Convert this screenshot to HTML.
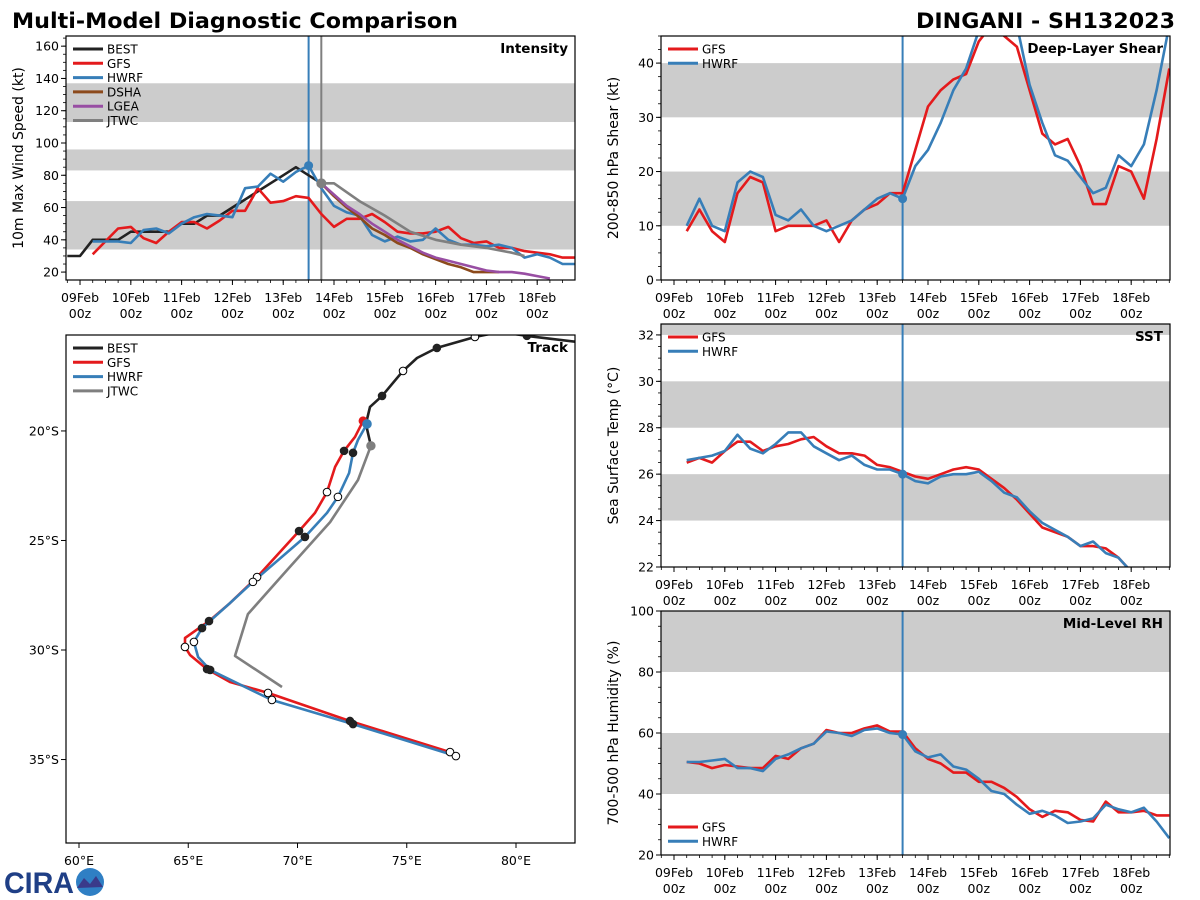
<!DOCTYPE html>
<html><head><meta charset="utf-8"><style>
body{margin:0;background:#fff}
svg{display:block;font-family:"DejaVu Sans","Liberation Sans",sans-serif}
</style></head><body>
<svg id="c" width="1200" height="900" viewBox="0 0 1200 900">
<text x="12" y="28" font-size="21" font-weight="bold" textLength="446" lengthAdjust="spacingAndGlyphs">Multi-Model Diagnostic Comparison</text>
<text x="1175" y="28" font-size="21" font-weight="bold" text-anchor="end" textLength="259" lengthAdjust="spacingAndGlyphs">DINGANI - SH132023</text>
<g>
<text x="4" y="893" font-size="30" font-weight="bold" fill="#1f3f86" font-family="Liberation Sans, sans-serif" textLength="70" lengthAdjust="spacingAndGlyphs">CIRA</text>
<circle cx="90" cy="882" r="14" fill="#2f7fc4"/>
<path d="M77 888 L84 878 L90 884 L96 876 L103 887 Z" fill="#3a3a8a"/>
</g>
</svg>
<script>
const C='#e41a1c',B='#377eb8',K='#222222',BR='#8c4a1c',P='#984ea3',G='#7f7f7f';
// ---- Intensity data (kt), time in days from 09Feb 00z
const bestT=[-0.25,0,0.25,0.5,0.75,1,1.25,1.5,1.75,2,2.25,2.5,2.75,3,3.25,3.5,3.75,4,4.25,4.5,4.75];
const bestV=[30,30,40,40,40,45,45,45,45,50,50,55,55,60,65,70,75,80,85,80,75];
const modelT=[0.25,0.5,0.75,1,1.25,1.5,1.75,2,2.25,2.5,2.75,3,3.25,3.5,3.75,4,4.25,4.5,4.75,5,5.25,5.5,5.75,6,6.25,6.5,6.75,7,7.25,7.5,7.75,8,8.25,8.5,8.75,9,9.25,9.5,9.75];
const gfsInt=[31,39,47,48,41,38,45,51,51,47,52,58,58,72,63,64,67,66,56,48,53,53,56,51,45,44,44,45,48,41,38,39,35,35,33,32,31,29,29];
const hwrfInt=[39,39,39,38,46,47,44,50,54,56,55,54,72,73,81,76,82,86,72,61,57,55,43,39,42,39,40,47,40,37,37,36,37,35,29,31,29,25,25];
const dshaT=[4.75,5,5.25,5.5,5.75,6,6.25,6.5,6.75,7,7.25,7.5,7.75,8,8.25];
const dshaV=[75,67,60,54,47,43,38,35,31,28,25,23,20,20,20];
const lgeaT=[4.75,5,5.25,5.5,5.75,6,6.25,6.5,6.75,7,7.25,7.5,7.75,8,8.25,8.5,8.75,9,9.25];
const lgeaV=[75,68,61,56,50,45,40,36,32,29,27,25,23,21,20,20,19,17.5,16];
const jtwcT=[4.75,5,5.5,6,6.5,7,7.5,8,8.5,8.75];
const jtwcV=[75,75,64,55,45,40,37,35,32,30];
// ---- Shear (kt)
const gfsShear=[9,13,9,7,16,19,18,9,10,10,10,11,7,11,13,14,16,16,24,32,35,37,38,44,47,45,43,35,27,25,26,21,14,14,21,20,15,26,39];
const hwrfShear=[10,15,10,9,18,20,19,12,11,13,10,9,10,11,13,15,16,15,21,24,29,35,39,46,50,50,47,36,29,23,22,19,16,17,23,21,25,35,47];
// ---- SST (C)
const gfsSst=[26.5,26.7,26.5,27.0,27.4,27.4,27.0,27.2,27.3,27.5,27.6,27.2,26.9,26.9,26.8,26.4,26.3,26.1,25.9,25.8,26.0,26.2,26.3,26.2,25.8,25.4,24.9,24.3,23.7,23.5,23.3,22.9,22.9,22.8,22.4,21.8];
const hwrfSst=[26.6,26.7,26.8,27.0,27.7,27.1,26.9,27.3,27.8,27.8,27.2,26.9,26.6,26.8,26.4,26.2,26.2,26.0,25.7,25.6,25.9,26.0,26.0,26.1,25.7,25.2,25.0,24.4,23.9,23.6,23.3,22.9,23.1,22.6,22.4,21.8];
// ---- RH (%)
const gfsRh=[50.5,50,48.5,49.5,49,48.5,48.5,52.5,51.5,55,56.5,61,60,60,61.5,62.5,60.5,60.5,55,51.5,50,47,47,44,44,42,39,35,32.5,34.5,34,31.5,31,37.5,34,34,34.5,33,33];
const hwrfRh=[50.5,50.5,51,51.5,48.5,48.5,47.5,51.5,53,55,56.5,60.5,60,59,61,61.5,60,59.5,54,52,53,49,48,45,41,40,36.5,33.5,34.5,33,30.5,31,32,36.5,35,34,35.5,31,25.5];
// ---- Track (lon E, lat)
const bestLon=[83.16,80.50,79.27,78.12,76.38,75.47,74.83,73.87,73.32,73.13,73.36];
const bestLat=[-15.98,-15.66,-15.48,-15.71,-16.21,-16.67,-17.26,-18.40,-18.90,-19.68,-20.68];
const gfsLon=[73.00,72.63,72.13,71.72,71.35,70.80,70.07,68.15,66.91,65.95,64.85,64.85,65.08,65.86,66.91,68.65,72.40,76.98];
const gfsLat=[-19.54,-20.27,-20.91,-21.64,-22.79,-23.74,-24.57,-26.67,-27.86,-28.68,-29.45,-29.86,-30.23,-30.87,-31.46,-31.96,-33.24,-34.66];
const hwrfLon=[73.18,72.77,72.54,72.36,71.85,71.35,70.34,67.96,66.91,65.63,65.26,65.45,66.00,68.83,72.54,77.25];
const hwrfLat=[-19.68,-20.41,-21.00,-21.92,-23.01,-23.74,-24.84,-26.89,-27.86,-29.00,-29.63,-30.32,-30.91,-32.28,-33.38,-34.84];
const jtwcLon=[73.36,72.77,71.49,69.52,67.73,67.14,69.29];
const jtwcLat=[-20.68,-22.24,-24.16,-26.35,-28.36,-30.27,-31.69];
const dayLabels=['09Feb','10Feb','11Feb','12Feb','13Feb','14Feb','15Feb','16Feb','17Feb','18Feb'];
const lonTicks=[60,65,70,75,80];
const latTicks=[-20,-25,-30,-35];

const svg=document.getElementById('c');
const NS='http://www.w3.org/2000/svg';
function el(tag,attrs,parent){const e=document.createElementNS(NS,tag);for(const k in attrs)e.setAttribute(k,attrs[k]);(parent||svg).appendChild(e);return e;}
function txt(x,y,s,size,anchor,parent,extra){const t=el('text',Object.assign({x:x,y:y,'font-size':size,'text-anchor':anchor||'start'},extra||{}),parent);t.textContent=s;return t;}

function panel(name,x0,y0,x1,y1,xmin,xmax,ymin,ymax){
  const g=el('g',{});
  
  
  const id='clip'+name;
  const cp=el('clipPath',{id:id},g);el('rect',{x:x0,y:y0,width:x1-x0,height:y1-y0},cp);
  const plot=el('g',{'clip-path':'url(#'+id+')'},g);
  const sx=v=>x0+(v-xmin)/(xmax-xmin)*(x1-x0);
  const sy=v=>y1-(v-ymin)/(ymax-ymin)*(y1-y0);
  return {g,plot,sx,sy,x0,y0,x1,y1};
}
function frame(p){el('rect',{x:p.x0,y:p.y0,width:p.x1-p.x0,height:p.y1-p.y0,fill:'none',stroke:'#000','stroke-width':1.2},p.g);}
function bands(p,list){list.forEach(b=>{el('rect',{x:p.x0,y:p.sy(b[1]),width:p.x1-p.x0,height:p.sy(b[0])-p.sy(b[1]),fill:'#cccccc'},p.plot);});}
function line(p,xs,ys,color,w,name){
  const pts=xs.map((x,i)=>p.sx(x).toFixed(1)+','+p.sy(ys[i]).toFixed(1)).join(' ');
  const l=el('polyline',{points:pts,fill:'none',stroke:color,'stroke-width':w||2.6,'stroke-linejoin':'round'},p.plot);
  
  
  return l;
}
function yaxis(p,ticks,minorStep,ymin,ymax,label,fmt){
  ticks.forEach(v=>{const y=p.sy(v);el('line',{x1:p.x0-5,x2:p.x0,y1:y,y2:y,stroke:'#000'},p.g);txt(p.x0-7,y+4.5,fmt?fmt(v):String(v),12.5,'end',p.g);});
  for(let v=ymin;v<=ymax+1e-6;v+=minorStep){const y=p.sy(v);el('line',{x1:p.x0-3,x2:p.x0,y1:y,y2:y,stroke:'#000','stroke-width':0.8},p.g);}
  const cy=(p.y0+p.y1)/2;const t=txt(0,0,label,14,'middle',p.g,{transform:'translate('+(p.x0-43)+','+cy+') rotate(-90)'});
  
}
function timeAxis(p){
  dayLabels.forEach((s,i)=>{const x=p.sx(i);el('line',{x1:x,x2:x,y1:p.y1,y2:p.y1+5,stroke:'#000'},p.g);txt(x,p.y1+22,s,12.5,'middle',p.g);txt(x,p.y1+38,'00z',12.5,'middle',p.g);});
  for(let d=-0.25;d<=9.75;d+=0.25){const x=p.sx(d);if(x<p.x0||x>p.x1)continue;el('line',{x1:x,x2:x,y1:p.y1,y2:p.y1+3,stroke:'#000','stroke-width':0.8},p.g);}
}
function legend(p,x,y,items){
  const lg=el('g',{},p.g);
  items.forEach((it,i)=>{const yy=y+i*14.3;el('line',{x1:x,x2:x+30,y1:yy,y2:yy,stroke:it[1],'stroke-width':3},lg);txt(x+34,yy+4.5,it[0],12,'start',lg);});
}
function vline(p,t,color,mk){const x=p.sx(t);el('line',{x1:x,x2:x,y1:p.y0,y2:p.y1,stroke:color,'stroke-width':2},p.plot);}
function dot(p,x,y,color,r,open){el('circle',{cx:p.sx(x),cy:p.sy(y),r:r||4,fill:open?'#fff':color,stroke:open?'#000':color,'stroke-width':1},p.plot);}
function title(p,s){const t=txt(p.x1-7,p.y0+17,s,13.5,'end',p.g,{'font-weight':'bold'});}

// Intensity
let p=panel('intensity-panel',66,36,575,280,-0.276,9.744,15.1,166.3);
bands(p,[[34,64],[83,96],[113,137]]);
vline(p,4.5,B);vline(p,4.75,G);
line(p,bestT,bestV,K,2.6,'best-intensity');
line(p,modelT,gfsInt,C,2.6,'gfs-intensity');
line(p,modelT,hwrfInt,B,2.6,'hwrf-intensity');
line(p,dshaT,dshaV,BR,2.6,'dsha-intensity');
line(p,lgeaT,lgeaV,P,2.6,'lgea-intensity');
line(p,jtwcT,jtwcV,G,2.6,'jtwc-intensity');
dot(p,4.5,86,B,4);dot(p,4.75,75,G,4.5);
frame(p);yaxis(p,[20,40,60,80,100,120,140,160],5,20,165,'10m Max Wind Speed (kt)');timeAxis(p);
legend(p,73,49,[['BEST',K],['GFS',C],['HWRF',B],['DSHA',BR],['LGEA',P],['JTWC',G]]);title(p,'Intensity');

// Shear
p=panel('shear-panel',661,36,1170,280,-0.256,9.764,0,45);
bands(p,[[10,20],[30,40]]);vline(p,4.5,B);
line(p,modelT,gfsShear,C,2.6,'gfs-shear');line(p,modelT,hwrfShear,B,2.6,'hwrf-shear');dot(p,4.5,15,B,4);
frame(p);yaxis(p,[0,10,20,30,40],2.5,0,45,'200-850 hPa Shear (kt)');timeAxis(p);
legend(p,668,49,[['GFS',C],['HWRF',B]]);title(p,'Deep-Layer Shear');

// SST
p=panel('sst-panel',661,324,1170,567,-0.256,9.764,22,32.47);
bands(p,[[24,26],[28,30],[32,33]]);vline(p,4.5,B);
line(p,modelT.slice(0,gfsSst.length),gfsSst,C,2.6,'gfs-sst');line(p,modelT.slice(0,hwrfSst.length),hwrfSst,B,2.6,'hwrf-sst');dot(p,4.5,26,B,4);
frame(p);yaxis(p,[22,24,26,28,30,32],0.5,22,32.4,'Sea Surface Temp (°C)');timeAxis(p);
legend(p,668,337,[['GFS',C],['HWRF',B]]);title(p,'SST');

// RH
p=panel('rh-panel',661,611,1170,855,-0.256,9.764,20,100);
bands(p,[[40,60],[80,100]]);vline(p,4.5,B);
line(p,modelT,gfsRh,C,2.6,'gfs-rh');line(p,modelT,hwrfRh,B,2.6,'hwrf-rh');dot(p,4.5,59.5,B,4);
frame(p);yaxis(p,[20,40,60,80,100],5,20,100,'700-500 hPa Humidity (%)');timeAxis(p);
legend(p,668,827,[['GFS',C],['HWRF',B]]);title(p,'Mid-Level RH');

// Track
p=panel('track-panel',66,335,575,843,59.405,82.70,-38.81,-15.62);
line(p,bestLon,bestLat,K,2.6,'best-track');
line(p,jtwcLon,jtwcLat,G,2.6,'jtwc-track');
line(p,gfsLon,gfsLat,C,2.6,'gfs-track');
line(p,hwrfLon,hwrfLat,B,2.6,'hwrf-track');
[[1,0],[3,1],[4,0],[6,1],[7,0]].forEach(m=>dot(p,bestLon[m[0]],bestLat[m[0]],K,3.8,m[1]));
dot(p,jtwcLon[0],jtwcLat[0],G,4.2);
dot(p,gfsLon[0],gfsLat[0],C,4);
[[2,0],[4,1],[6,0],[7,1],[9,0],[11,1],[13,0],[15,1],[16,0],[17,1]].forEach(m=>dot(p,gfsLon[m[0]],gfsLat[m[0]],K,3.8,m[1]));
[[2,0],[4,1],[6,0],[7,1],[9,0],[10,1],[12,0],[13,1],[14,0],[15,1]].forEach(m=>dot(p,hwrfLon[m[0]],hwrfLat[m[0]],K,3.8,m[1]));
dot(p,hwrfLon[0],hwrfLat[0],B,4.3);
frame(p);
lonTicks.forEach(v=>{const x=p.sx(v);el('line',{x1:x,x2:x,y1:p.y1,y2:p.y1+5,stroke:'#000'},p.g);txt(x,p.y1+22,v+'°E',12.5,'middle',p.g);});
latTicks.forEach(v=>{const y=p.sy(v);el('line',{x1:p.x0-5,x2:p.x0,y1:y,y2:y,stroke:'#000'},p.g);txt(p.x0-7,y+4.5,(-v)+'°S',12.5,'end',p.g);});
legend(p,73,348,[['BEST',K],['GFS',C],['HWRF',B],['JTWC',G]]);title(p,'Track');
</script>
</body></html>
